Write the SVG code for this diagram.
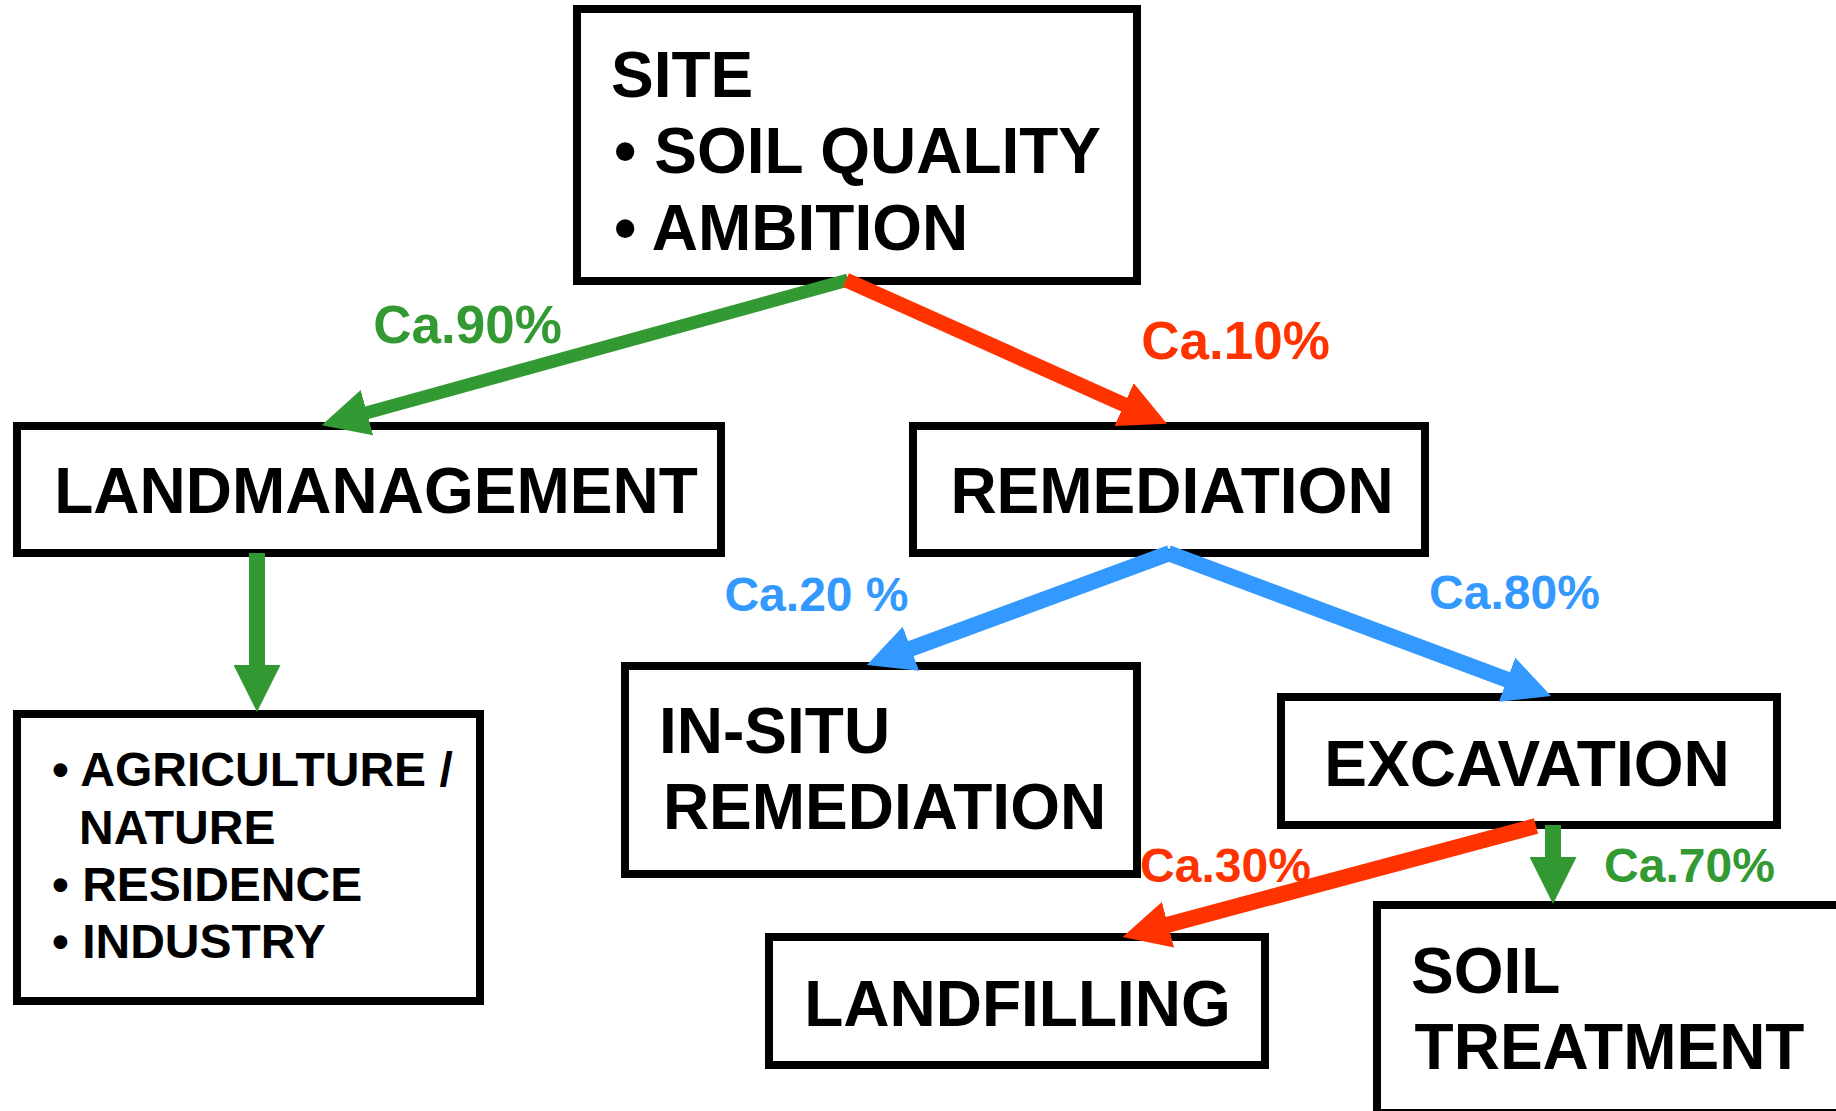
<svg xmlns="http://www.w3.org/2000/svg" width="1836" height="1111" viewBox="0 0 1836 1111">
<style>
.box{fill:#fff;stroke:#000;stroke-width:8}
.t{font-family:"Liberation Sans",Arial,Helvetica,sans-serif;font-weight:bold;fill:#000}
.big{font-size:64px}
.mid{font-size:48px}
.c{text-anchor:middle}
.lbl{font-family:"Liberation Sans",Arial,Helvetica,sans-serif;font-weight:bold;text-anchor:middle}
.g{fill:#339933}.r{fill:#FF3300}.b{fill:#3399FF}
.ln{fill:none;stroke-linecap:butt}
</style>
<defs>
<marker id="ahG" markerUnits="userSpaceOnUse" viewBox="0 0 47 47" refX="1" refY="23.5" markerWidth="47" markerHeight="47" orient="auto"><path d="M0,0 L47,23.5 L0,47 Z" fill="#339933"/></marker>
<marker id="ahR" markerUnits="userSpaceOnUse" viewBox="0 0 47 47" refX="1" refY="23.5" markerWidth="47" markerHeight="47" orient="auto"><path d="M0,0 L47,23.5 L0,47 Z" fill="#FF3300"/></marker>
<marker id="ahB" markerUnits="userSpaceOnUse" viewBox="0 0 47 47" refX="1" refY="23.5" markerWidth="47" markerHeight="47" orient="auto"><path d="M0,0 L47,23.5 L0,47 Z" fill="#3399FF"/></marker>
</defs>
<g id="site">
<rect class="box" x="577" y="9" width="560" height="272"/>
<text class="t big" x="611" y="97">SITE</text>
<text class="t big" x="614" y="173">• SOIL QUALITY</text>
<text class="t big" x="614" y="250">• AMBITION</text>
</g>
<g id="landmanagement">
<rect class="box" x="17" y="426" width="704" height="127"/>
<text class="t big c" x="376" y="513">LANDMANAGEMENT</text>
</g>
<g id="remediation">
<rect class="box" x="913" y="426" width="512" height="127"/>
<text class="t big c" x="1172" y="513">REMEDIATION</text>
</g>
<g id="landuse">
<rect class="box" x="17" y="714" width="463" height="287"/>
<text class="t mid" x="52" y="786">• AGRICULTURE /</text>
<text class="t mid" x="79" y="844">NATURE</text>
<text class="t mid" x="52" y="901">• RESIDENCE</text>
<text class="t mid" x="52" y="958">• INDUSTRY</text>
</g>
<g id="insitu">
<rect class="box" x="625" y="666" width="512" height="208"/>
<text class="t big" x="659" y="753">IN-SITU</text>
<text class="t big c" x="884.5" y="829">REMEDIATION</text>
</g>
<g id="excavation">
<rect class="box" x="1281" y="697" width="496" height="128"/>
<text class="t big c" x="1527" y="786">EXCAVATION</text>
</g>
<g id="landfilling">
<rect class="box" x="769" y="937" width="496" height="128"/>
<text class="t big c" x="1017.5" y="1026">LANDFILLING</text>
</g>
<g id="soiltreatment">
<rect class="box" x="1377" y="905" width="480" height="208"/>
<text class="t big" x="1411" y="993">SOIL</text>
<text class="t big c" x="1609.5" y="1069">TREATMENT</text>
</g>
<g id="connectors">
<path class="ln" d="M848,280 L366,413" stroke="#339933" stroke-width="13" marker-end="url(#ahG)"/>
<path class="ln" d="M846,280 L1125,405" stroke="#FF3300" stroke-width="15" marker-end="url(#ahR)"/>
<path class="ln" d="M257,553 L257,666" stroke="#339933" stroke-width="16" marker-end="url(#ahG)"/>
<path class="ln" d="M1170,553 L910,649" stroke="#3399FF" stroke-width="16" marker-end="url(#ahB)"/>
<path class="ln" d="M1168,553 L1508,680" stroke="#3399FF" stroke-width="16" marker-end="url(#ahB)"/>
<path class="ln" d="M1536,826 L1167,925" stroke="#FF3300" stroke-width="16" marker-end="url(#ahR)"/>
<path class="ln" d="M1553,825 L1553,858" stroke="#339933" stroke-width="16" marker-end="url(#ahG)"/>
<text class="lbl g" x="467.5" y="343" font-size="53">Ca.90%</text>
<text class="lbl r" x="1235.5" y="359" font-size="53">Ca.10%</text>
<text class="lbl b" x="816.5" y="611" font-size="48">Ca.20 %</text>
<text class="lbl b" x="1514.5" y="609" font-size="48">Ca.80%</text>
<text class="lbl r" x="1225.5" y="882" font-size="48">Ca.30%</text>
<text class="lbl g" x="1689.5" y="882" font-size="48">Ca.70%</text>
</g>
</svg>
